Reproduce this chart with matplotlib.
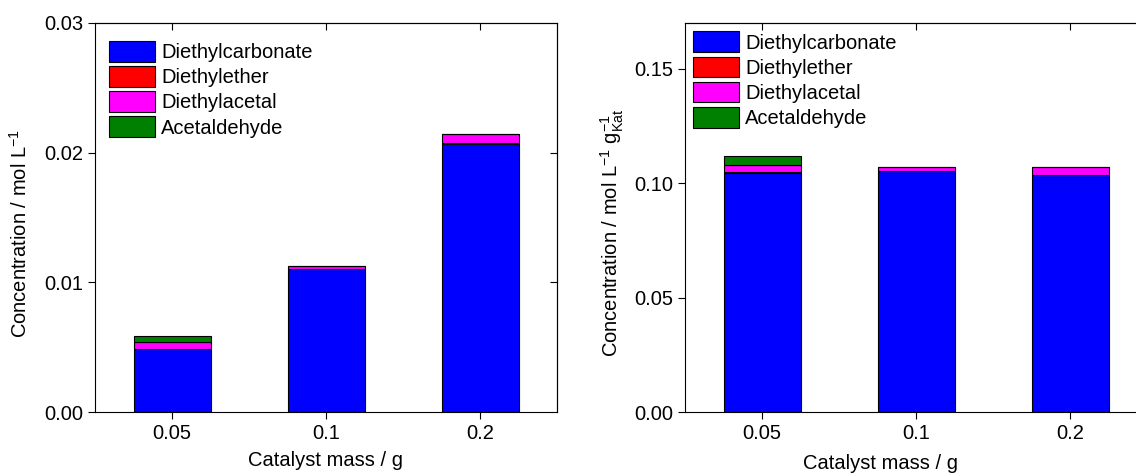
import numpy as np
import matplotlib
matplotlib.use("Agg")
import matplotlib.pyplot as plt

plt.rcParams['font.family'] = ['Liberation Sans', 'DejaVu Sans']
plt.rcParams['mathtext.fontset'] = 'custom'
plt.rcParams['mathtext.rm'] = 'Liberation Sans'
plt.rcParams['mathtext.it'] = 'Liberation Sans'
plt.rcParams['font.size'] = 14.5

# catalyst masses (categorical x)
masses = ["0.05", "0.1", "0.2"]
species = ["Diethylcarbonate", "Diethylether", "Diethylacetal", "Acetaldehyde"]
colors = ["#0000ff", "#ff0000", "#ff00ff", "#008000"]

# concentration / mol L-1
conc_dec = [0.00485, 0.01103, 0.0207]
conc_dee = [0.00002, 0.00002, 0.00002]
conc_acetal = [0.00054, 0.00021, 0.0007]
conc_acald = [0.00047, 0.0, 0.0]

# concentration per catalyst mass / mol L-1 g-1
spec_dec = [0.1044, 0.1053, 0.1034]
spec_dee = [0.0003, 0.0002, 0.0002]
spec_acetal = [0.0033, 0.0015, 0.0033]
spec_acald = [0.0037, 0.0, 0.0]


def stacked(ax, series):
    x = np.arange(len(masses))
    bottom = np.zeros(len(masses))
    for vals, c, lab in zip(series, colors, species):
        ax.bar(x, vals, width=0.5, bottom=bottom, color=c, edgecolor='black',
               linewidth=0.8, label=lab)
        bottom += np.array(vals)
    ax.set_xticks(x)
    ax.set_xticklabels(masses)
    ax.set_xlim(-0.5, 2.5)
    ax.tick_params(direction='out', length=5, width=0.8, top=False, right=False)
    sec = ax.secondary_xaxis('top')
    sec.set_xticks(x)
    sec.tick_params(direction='in', length=5, width=0.8, labeltop=False)
    for s in ax.spines.values():
        s.set_linewidth(0.8)


def legend(ax, dx, dy):
    ax.legend(loc='upper left', bbox_to_anchor=(dx/462, 1 - dy/389), frameon=False,
              borderpad=0, borderaxespad=0, handlelength=2.3, handleheight=1.2,
              labelspacing=0.2, handletextpad=0.3)


fig = plt.figure(figsize=(11.36, 4.73), dpi=100)
ax1 = fig.add_axes([95/1136, 61/473, 462/1136, 389/473])
ax2 = fig.add_axes([685/1136, 61/473, 462/1136, 389/473])

stacked(ax1, [conc_dec, conc_dee, conc_acetal, conc_acald])
ax1.set_ylim(0, 0.03)
ax1.set_yticks([0.0, 0.01, 0.02, 0.03])
ax1.set_yticklabels(["0.00", "0.01", "0.02", "0.03"])
ax1r = ax1.secondary_yaxis('right')
ax1r.set_yticks([0.01, 0.02])
ax1r.tick_params(direction='in', length=5, width=0.8, labelright=False)
ax1.set_ylabel(r"Concentration / mol L$^{-1}$")
ax1.yaxis.set_label_coords(-0.139, 0.46)
ax1.set_xlabel("Catalyst mass / g")
ax1.xaxis.set_label_coords(0.5, -0.1)
legend(ax1, 14, 18)

stacked(ax2, [spec_dec, spec_dee, spec_acetal, spec_acald])
ax2.set_ylim(0, 0.17)
ax2.set_yticks([0.0, 0.05, 0.10, 0.15])
ax2.set_yticklabels(["0.00", "0.05", "0.10", "0.15"])
ax2.set_ylabel(r"Concentration / mol L$^{-1}$ g$^{-1}_{\mathrm{Kat}}$")
ax2.yaxis.set_label_coords(-0.128, 0.46)
ax2.set_xlabel("Catalyst mass / g")
ax2.xaxis.set_label_coords(0.424, -0.108)
legend(ax2, 8, 8.5)

fig.savefig("out.png", dpi=100)
